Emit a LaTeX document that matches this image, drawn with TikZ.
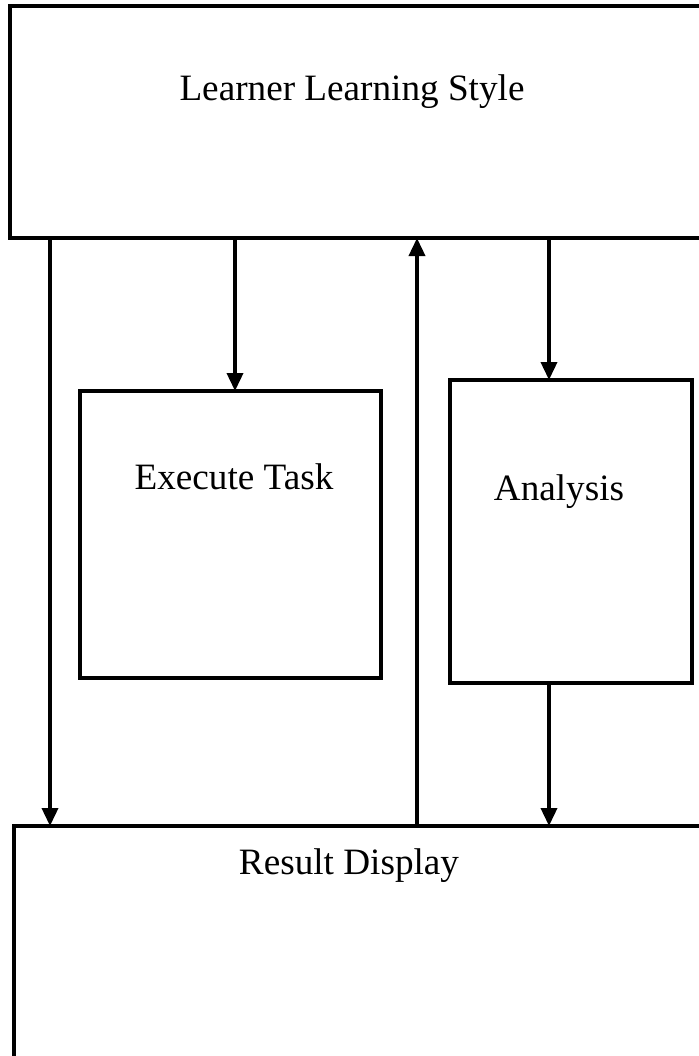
\documentclass[tikz,border=0pt]{standalone}
\usepackage{fontspec}
\setmainfont{Liberation Serif}
\usetikzlibrary{arrows.meta}
\begin{document}
\begin{tikzpicture}[x=0.5pt,y=-0.5pt,
  box/.style={draw, line width=2pt, inner sep=0pt, outer sep=0pt, anchor=north west},
  lbl/.style={font=\fontsize{18.6}{22}\selectfont, anchor=base, inner sep=0pt},
  link/.style={line width=1.8pt, -{Triangle[width=8pt,length=9pt]}}]
\clip (0,0) rectangle (699,1056);
% boxes
\node[box, minimum width=375pt, minimum height=116pt] (learner) at (10,6) {};
\node[box, minimum width=150.5pt, minimum height=143.5pt] (execute) at (80,391) {};
\node[box, minimum width=121pt, minimum height=151.5pt] (analysis) at (450,380) {};
\node[box, minimum width=375pt, minimum height=150pt] (result) at (14,826) {};
% labels
\node[lbl] (learnerText) at (352,100) {Learner Learning Style};
\node[lbl] (executeText) at (234,489) {Execute Task};
\node[lbl] (analysisText) at (559,500) {Analysis};
\node[lbl] (resultText) at (349,874) {Result Display};
% connector columns
\coordinate (c1) at (50,0);
\coordinate (c2) at (235,0);
\coordinate (c3) at (417,0);
\coordinate (c4) at (549,0);
% connectors
\draw[link] (learner.south -| c1) -- (result.north -| c1);
\draw[link] (learner.south -| c2) -- (execute.north -| c2);
\draw[link] (result.north -| c3) -- (learner.south -| c3);
\draw[link] (learner.south -| c4) -- (analysis.north -| c4);
\draw[link] (analysis.south -| c4) -- (result.north -| c4);
\end{tikzpicture}
\end{document}
